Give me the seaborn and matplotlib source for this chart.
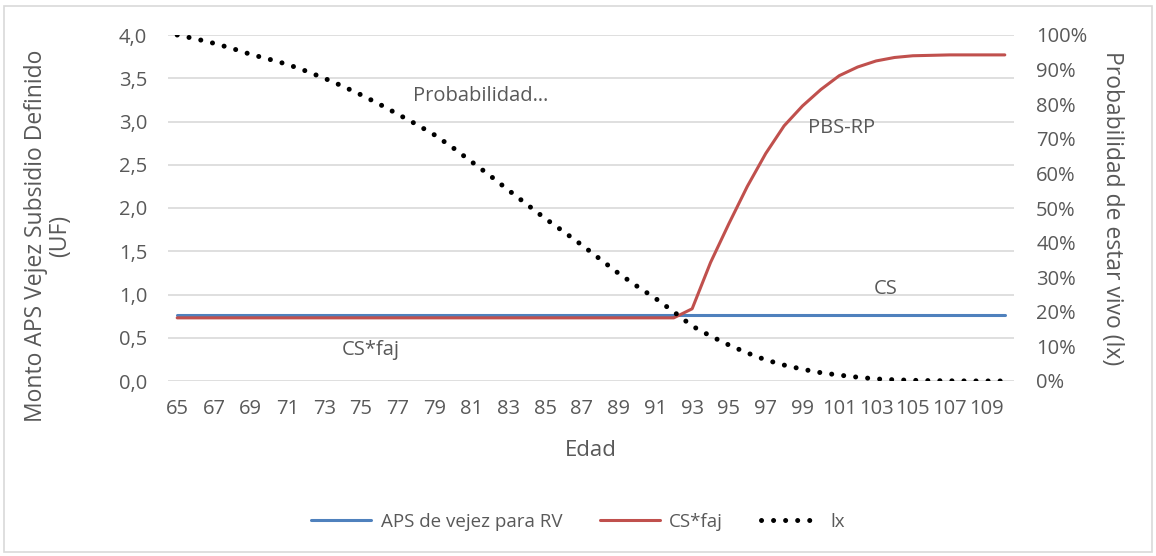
import numpy as np
import pandas as pd
import seaborn as sns
import matplotlib.pyplot as plt
from matplotlib.patches import Rectangle
from matplotlib.ticker import FuncFormatter, MultipleLocator

# edades 65..110
edad = list(range(65, 111))

# APS de vejez para RV (UF), constante
aps = [0.76] * 46

# CS*faj (UF)
cs_faj = [0.73] * 28 + [0.835, 1.37, 1.82, 2.25, 2.63, 2.95, 3.18, 3.37, 3.53,
                        3.63, 3.70, 3.74, 3.76, 3.765, 3.77, 3.77, 3.77, 3.77]

# lx, probabilidad de estar vivo (%)
lx = [100, 98.9, 97.6, 96.1, 94.4, 93.0, 91.5, 89.6, 87.5, 85.2,
      82.7, 80.0, 77.1, 74.2, 71.1, 67.4, 63.4, 59.4, 55.2, 51.1,
      47.0, 43.2, 39.3, 35.2, 31.1, 27.4, 23.9, 20.0, 15.9, 13.0,
      10.4, 8.1, 6.1, 4.6, 3.4, 2.4, 1.7, 1.1, 0.6, 0.35,
      0.2, 0.1, 0.05, 0.02, 0.01, 0.0]

df = pd.DataFrame({"Edad": edad, "APS": aps, "CSfaj": cs_faj, "lx": lx})

sns.set_style("white")
plt.rcParams['font.family'] = ['Open Sans', 'DejaVu Sans']
gris = '#595959'
azul = '#4F81BD'
rojo = '#C0504D'

fig = plt.figure(figsize=(11.56, 5.56), dpi=100)
ax = fig.add_axes([168/1156, 1-381/556, 846/1156, 346/556])
ax2 = ax.twinx()

sns.lineplot(data=df, x="Edad", y="APS", ax=ax, color=azul, lw=2.2, label="APS de vejez para RV", legend=False)
sns.lineplot(data=df, x="Edad", y="CSfaj", ax=ax, color=rojo, lw=2.2, label="CS*faj", legend=False)
sns.lineplot(data=df, x="Edad", y="lx", ax=ax2, color='black', lw=3.6, label="lx", legend=False,
             linestyle=(0, (0.01, 2.4)), dash_capstyle='round')

ax.set_xlim(64.5, 110.5)
ax.set_ylim(0, 4)
ax2.set_ylim(0, 100)
ax.set_xticks(edad[::2])
ax.set_xticklabels([str(e) for e in edad[::2]])
ax.yaxis.set_major_locator(MultipleLocator(0.5))
ax.yaxis.set_major_formatter(FuncFormatter(lambda v, p: f"{v:.1f}".replace('.', ',')))
ax2.yaxis.set_major_locator(MultipleLocator(10))
ax2.yaxis.set_major_formatter(FuncFormatter(lambda v, p: f"{v:.0f}%"))

ax.grid(axis='y', color='#d9d9d9', lw=1.2)
ax.set_axisbelow(True)
for a in (ax, ax2):
    for s in a.spines.values():
        s.set_visible(False)
    a.tick_params(length=0, labelsize=14.5, labelcolor=gris)
ax.tick_params(axis='y', pad=15)
ax.tick_params(axis='x', pad=13)
ax2.tick_params(axis='y', pad=16)

ax.set_xlabel("Edad", fontsize=16, color=gris)
ax.xaxis.set_label_coords(0.5, -0.17)
ax.set_ylabel("Monto APS Vejez Subsidio Definido\n(UF)", fontsize=16.5, color=gris, linespacing=1.0)
ax.yaxis.set_label_coords(-0.113, 0.42)
ax2.set_ylabel("Probabilidad de estar vivo (lx)", fontsize=16.5, color=gris, rotation=270, va='center')
ax2.yaxis.set_label_coords(1.116, 0.5)

ax.text(77.8, 3.29, "Probabilidad…", fontsize=14.5, color=gris, va='center', ha='left')
ax.text(99.3, 2.92, "PBS-RP", fontsize=14.5, color=gris, va='center', ha='left')
ax.text(103.5, 1.06, "CS", fontsize=14.5, color=gris, va='center', ha='center')
ax.text(75.5, 0.36, "CS*faj", fontsize=14.5, color=gris, va='center', ha='center')

h1, l1 = ax.get_legend_handles_labels()
h2, l2 = ax2.get_legend_handles_labels()
fig.legend(h1 + h2, l1 + l2, loc='center', bbox_to_anchor=(0.5, 1-522/556), ncol=3,
           frameon=False, fontsize=13.5, labelcolor=gris, handlelength=3.2, columnspacing=2.0,
           handletextpad=0.5)

fig.patches.append(Rectangle((4/1156, 4/556), 1-8/1156, 1-10/556, transform=fig.transFigure,
                             fill=False, edgecolor='#d9d9d9', lw=1.2))

fig.savefig("out.png", dpi=100)
